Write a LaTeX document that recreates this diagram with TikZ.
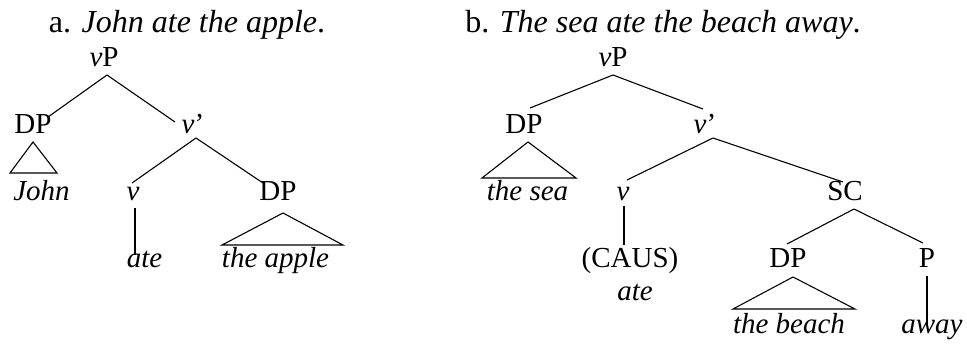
\documentclass[tikz,border=0pt]{standalone}
\usepackage{fontspec}
\setmainfont{Liberation Serif}
\begin{document}
\begin{tikzpicture}[x=1pt,y=-1pt,
  lab/.style={anchor=base,inner sep=0pt,font=\fontsize{29}{33}\selectfont},
  ttl/.style={anchor=base,inner sep=0pt,font=\fontsize{32}{36}\selectfont},
  edge/.style={draw=black,line width=1.1pt}]
\path[use as bounding box,fill=white] (0,0) rectangle (967,343);
% titles
\node[ttl] (ta) at (187,32) {a. \textit{John ate the apple}.};
\node[ttl] (tb) at (663,32) {b. \textit{The sea ate the beach away}.};
% tree a
\node[lab] (vPa) at (104,66) {\textit{v}P};
\node[lab] (DPa) at (33,133) {DP};
\node[lab] (vba) at (193,133) {\textit{v}’};
\node[lab] (john) at (41.5,200) {\textit{John}};
\node[lab] (va) at (133,200) {\textit{v}};
\node[lab] (DPa2) at (278,200) {DP};
\node[lab] (atea) at (144.5,267) {\textit{ate}};
\node[lab] (apple) at (275.5,267) {\textit{the apple}};
\draw[edge] ([shift={(3,9)}]vPa.base) -- ([shift={(15,-16)}]DPa.base);
\draw[edge] ([shift={(3,9)}]vPa.base) -- ([shift={(-18,-11)}]vba.base);
\draw[edge] ([shift={(3,5)}]vba.base) -- ([shift={(-1,-17)}]va.base);
\draw[edge] ([shift={(3,5)}]vba.base) -- ([shift={(-15,-17)}]DPa2.base);
\draw[edge] ([shift={(0,9)}]DPa.base) -- ([shift={(-31.5,-27)}]john.base) -- ([shift={(15.5,-27)}]john.base) -- cycle;
\draw[edge] ([shift={(2,8)}]va.base) -- ([shift={(-9.5,-12)}]atea.base);
\draw[edge] ([shift={(5,13)}]DPa2.base) -- ([shift={(-53.5,-22)}]apple.base) -- ([shift={(67.5,-22)}]apple.base) -- cycle;
% tree b
\node[lab] (vPb) at (613,66) {\textit{v}P};
\node[lab] (DPb) at (524,133) {DP};
\node[lab] (vbb) at (705,133) {\textit{v}’};
\node[lab] (sea) at (527.5,200) {\textit{the sea}};
\node[lab] (vb) at (623,200) {\textit{v}};
\node[lab] (SC) at (845,200) {SC};
\node[lab] (caus) at (630,267) {(CAUS)};
\node[lab] (ateb) at (635,300) {\textit{ate}};
\node[lab] (DPc) at (788,267) {DP};
\node[lab] (P) at (927,267) {P};
\node[lab] (beach) at (789,333) {\textit{the beach}};
\node[lab] (away) at (932,333) {\textit{away}};
\draw[edge] ([shift={(0,9)}]vPb.base) -- ([shift={(6,-25)}]DPb.base);
\draw[edge] ([shift={(0,9)}]vPb.base) -- ([shift={(-2,-24)}]vbb.base);
\draw[edge] ([shift={(8,5)}]vbb.base) -- ([shift={(4,-20)}]vb.base);
\draw[edge] ([shift={(8,5)}]vbb.base) -- ([shift={(-2,-18)}]SC.base);
\draw[edge] ([shift={(9,9)}]SC.base) -- ([shift={(-1,-23)}]DPc.base);
\draw[edge] ([shift={(9,9)}]SC.base) -- ([shift={(-4,-24)}]P.base);
\draw[edge] ([shift={(4,9)}]DPb.base) -- ([shift={(-45.5,-22)}]sea.base) -- ([shift={(48.5,-22)}]sea.base) -- cycle;
\draw[edge] ([shift={(1,6)}]vb.base) -- ([shift={(-6,-22)}]caus.base);
\draw[edge] ([shift={(5,10)}]DPc.base) -- ([shift={(-56,-24)}]beach.base) -- ([shift={(66,-24)}]beach.base) -- cycle;
\draw[edge] ([shift={(0,9)}]P.base) -- ([shift={(-5,-8)}]away.base);
\end{tikzpicture}
\end{document}
